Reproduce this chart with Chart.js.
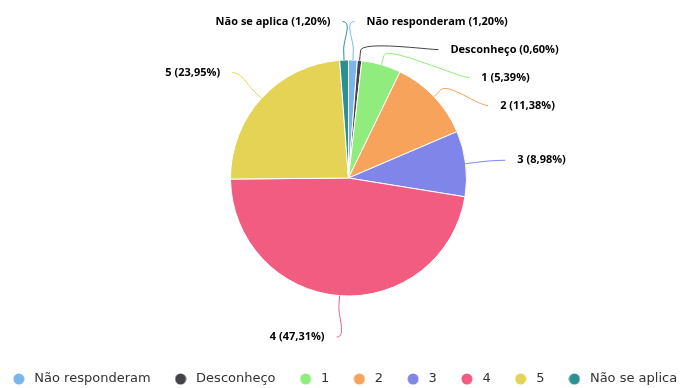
<!DOCTYPE html>
<html>
<head>
<meta charset="utf-8">
<script src="https://cdn.jsdelivr.net/npm/chart.js@4.4.0/dist/chart.umd.min.js"></script>
<style>
    body { margin: 0; background: #fff; }
</style>
</head>
<body>
<canvas id="myChart" width="689" height="388"></canvas>
<script>
// dados (percentuais)
const labels = ["Não responderam", "Desconheço", "1", "2", "3", "4", "5", "Não se aplica"];
const values = [1.20, 0.60, 5.39, 11.38, 8.98, 47.31, 23.95, 1.20];
const colors = ["#7cb5ec", "#434348", "#90ed7d", "#f7a35c", "#8085e9", "#f15c80", "#e4d354", "#2b908f"];

// bolinha da legenda
function dot(color) {
    const c = document.createElement("canvas");
    c.width = 12;
    c.height = 12;
    const g = c.getContext("2d");
    g.fillStyle = color;
    g.beginPath();
    g.arc(6, 6, 5.5, 0, Math.PI * 2);
    g.fill();
    return c;
}

// legenda numa linha só, um pouco mais larga que o canvas
const wideLegend = {
    id: "wideLegend",
    afterLayout(chart) {
        const lg = chart.legend;
        const w = 760;
        lg.maxWidth = w;
        lg.fit();
        lg.width = w;
        lg.left = 343.5 - w / 2;
        lg.right = 343.5 + w / 2;
    },
};

// rótulos externos com linhas de ligação
const pieLabels = {
    id: "pieLabels",
    afterDatasetsDraw(chart) {
        const ctx = chart.ctx;
        const arcs = chart.getDatasetMeta(0).data;
        const dist = 40;
        const gap = 28;
        const items = arcs.map((arc, i) => {
            const p = arc.getProps(["x", "y", "startAngle", "endAngle", "outerRadius"]);
            const mid = (p.startAngle + p.endAngle) / 2;
            const R = p.outerRadius + dist;
            return {
                i, p, mid, R,
                side: Math.cos(mid) >= 0 ? 1 : -1,
                y: p.y + Math.sin(mid) * R,
            };
        });

        [1, -1].forEach((side) => {
            const group = items.filter((it) => it.side === side).sort((a, b) => a.y - b.y);
            group.forEach((it, k) => {
                it.y = Math.max(it.y, it.p.y - it.R);
                if (k > 0) it.y = Math.max(it.y, group[k - 1].y + gap);
            });
        });

        ctx.save();
        ctx.font = 'bold 11px "Open Sans"';
        ctx.textBaseline = "middle";
        items.forEach((it) => {
            const { p, mid, R, side } = it;
            const y = it.y + 1.5;
            const r = p.outerRadius;
            const dy = it.y - p.y;
            const dx = Math.max(Math.sqrt(Math.max(0, R * R - dy * dy)), Math.abs(Math.cos(mid)) * R);
            const xA = p.x + side * dx;
            const ex = p.x + Math.cos(mid) * r;
            const ey = p.y + Math.sin(mid) * r;
            const bx = p.x + Math.cos(mid) * (r + 10);
            const by = p.y + Math.sin(mid) * (r + 10);

            ctx.strokeStyle = colors[it.i];
            ctx.lineWidth = 1;
            ctx.beginPath();
            ctx.moveTo(xA, y);
            ctx.bezierCurveTo(xA - side * 10, y, 2 * bx - ex, 2 * by - ey, bx, by);
            ctx.lineTo(ex, ey);
            ctx.stroke();

            const txt = labels[it.i] + " (" + values[it.i].toFixed(2).replace(".", ",") + "%)";
            ctx.fillStyle = "#000";
            ctx.textAlign = side > 0 ? "left" : "right";
            ctx.fillText(txt, xA + side * 12, y);
        });
        ctx.restore();
    },
};

const ctx = document.getElementById("myChart").getContext("2d");
new Chart(ctx, {
    type: "pie",
    data: {
        labels: labels,
        datasets: [
            {
                data: values,
                backgroundColor: colors,
                borderColor: "#fff",
                borderWidth: 1,
                radius: 118,
            },
        ],
    },
    options: {
        responsive: false,
        animation: false,
        layout: {
            // a legenda é medida em duas linhas no layout; ajustada depois
            padding: { top: 4.5, bottom: -41.5, left: 8, right: 0 },
        },
        plugins: {
            tooltip: { enabled: false },
            legend: {
                position: "bottom",
                labels: {
                    usePointStyle: true,
                    pointStyleWidth: 18,
                    padding: 21,
                    color: "#333",
                    font: { family: "DejaVu Sans", size: 13 },
                    generateLabels: (chart) =>
                        Chart.overrides.pie.plugins.legend.labels
                            .generateLabels(chart)
                            .map((item, i) => ({ ...item, pointStyle: dot(colors[i]) })),
                },
            },
        },
    },
    plugins: [wideLegend, pieLabels],
});
</script>
</body>
</html>
